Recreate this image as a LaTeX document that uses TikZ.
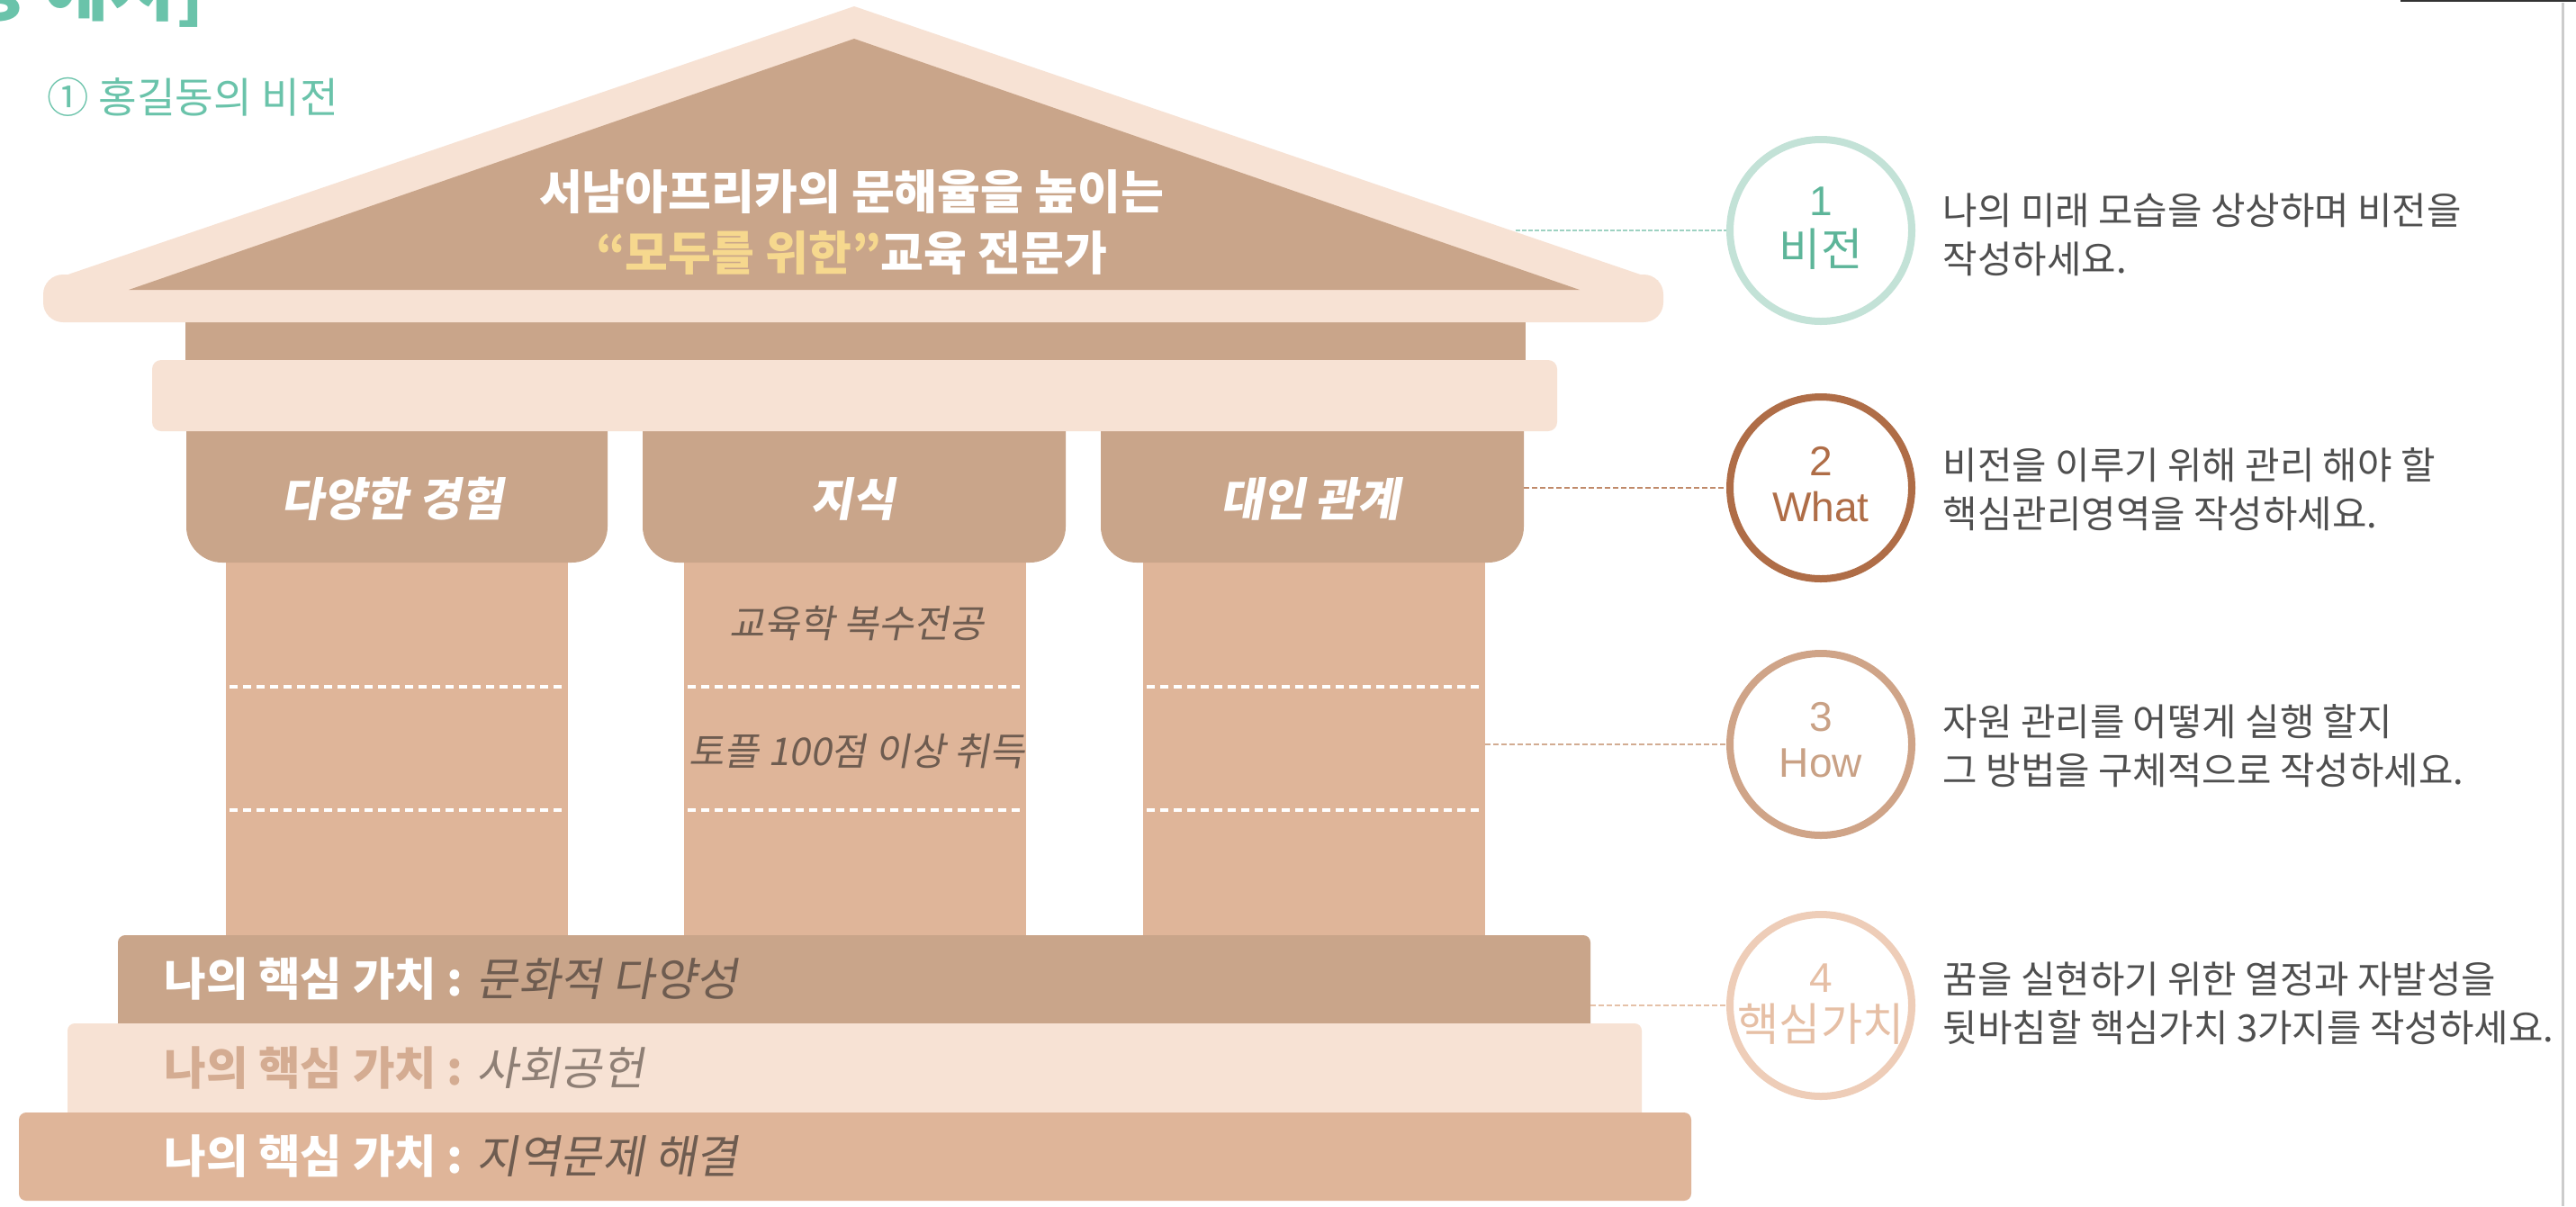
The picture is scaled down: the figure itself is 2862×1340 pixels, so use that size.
\documentclass[tikz,border=0pt]{standalone}
\usepackage{fontspec}
\setmainfont{Noto Sans CJK KR}
\newfontfamily\krslant{Noto Sans CJK KR}[FakeSlant=0.18]
\newfontfamily\lat{Liberation Sans}
\newcommand{\myfs}[2]{\fontsize{#1pt}{#2pt}\selectfont}
\definecolor{cLight}{HTML}{F7E2D4}
\definecolor{cDark}{HTML}{C9A58A}
\definecolor{cTan}{HTML}{DFB599}
\definecolor{cYellow}{HTML}{F6D88E}
\definecolor{cText}{HTML}{6E5C50}
\definecolor{cText2}{HTML}{8E7F75}
\definecolor{cPre2}{HTML}{D4AC92}
\definecolor{cTeal}{HTML}{6AC3AA}
\definecolor{cBody}{HTML}{4F4F4F}
\definecolor{cR1}{HTML}{C3E2D7}
\definecolor{cT1}{HTML}{5DB599}
\definecolor{cR2}{HTML}{AF6D47}
\definecolor{cT2}{HTML}{AF6D47}
\definecolor{cR3}{HTML}{CFA488}
\definecolor{cT3}{HTML}{C9A185}
\definecolor{cR4}{HTML}{EECDB8}
\definecolor{cT4}{HTML}{E6BFA5}
\definecolor{cC1}{HTML}{9ED2C2}
\definecolor{cC2}{HTML}{C08A6A}
\definecolor{cC3}{HTML}{D2AC92}
\definecolor{cC4}{HTML}{E5C1A8}
\definecolor{cLine}{HTML}{CCCCCC}
\tikzset{
  ring/.style={circle, draw=#1, line width=0.8mm, minimum size=20.2mm, inner sep=0pt, fill=white},
  numtxt/.style={inner sep=0pt, text=#1, font=\lat\myfs{13.1}{15}},
  wordtxt/.style={inner sep=0pt, text=#1, font=\myfs{14.3}{16}},
  latword/.style={inner sep=0pt, text=#1, font=\lat\myfs{13.1}{15}},
  conn/.style={draw=#1, line width=0.2mm, dash pattern=on 0.6mm off 0.3mm},
  conndot/.style={draw=#1, line width=0.22mm, dash pattern=on 0.45mm off 0.25mm},
  body/.style={anchor=west, align=left, inner sep=0pt, text=cBody, font=\myfs{11.9}{15.4}},
  caplabel/.style={inner sep=0pt, text=white, font=\krslant\bfseries\myfs{14.5}{17}},
  shafttxt/.style={inner sep=0pt, text=cText, font=\krslant\myfs{12.1}{14}},
  steptxt/.style={anchor=west, inner sep=0pt, font=\myfs{14.4}{17}},
  sep/.style={draw=white, line width=0.4mm, dash pattern=on 0.9mm off 0.6mm},
}
\begin{document}
\begin{tikzpicture}[x=0.1mm,y=-0.1mm]
\useasboundingbox (0,0) rectangle (2862,1340);
\clip (0,0) rectangle (2862,1340);
\fill[white] (0,0) rectangle (2862,1340);

% cropped heading and title
\node[anchor=base east, inner sep=0pt, text=cTeal, font=\bfseries\myfs{22.8}{27}] (head) at (228,16) {[작성 예시]};
\node[anchor=west, inner sep=0pt, text=cTeal, font=\myfs{13.2}{15}] (title) at (52,108) {① 홍길동의 비전};

% page lines
\draw[cLine, line width=0.3mm] (2847,3) -- (2847,1340);
\draw[black!80, line width=0.25mm] (2667,1) -- (2862,1);

% shafts
\foreach \a/\b in {251/631,760/1140,1270/1650}{
  \fill[cTan] (\a,600) rectangle (\b,1050);
  \draw[sep] (\a+4,763) -- (\b-3,763);
  \draw[sep] (\a+4,900) -- (\b-3,900);
}
% capitals
\foreach \a/\b in {207/675,714/1184,1223/1693}{
  \fill[cDark, rounded corners=4mm] (\a,420) rectangle (\b,625);
}
% frieze and architrave
\fill[cDark] (206,340) rectangle (1695,405);
\fill[cLight, rounded corners=1mm] (169,400) rectangle (1730,479);
% roof
\fill[cLight] (949,7) -- (55,312) -- (1843,312) -- cycle;
\fill[cLight, rounded corners=2.2mm] (48,305) rectangle (1848,358);
\fill[cDark] (949,43) -- (143,322) -- (1755,322) -- cycle;
% steps
\fill[cDark, rounded corners=0.8mm] (131,1039) rectangle (1767,1150);
\fill[cLight, rounded corners=0.8mm] (75,1137) rectangle (1824,1250);
\fill[cTan, rounded corners=0.8mm] (21,1236) rectangle (1879,1334);

% roof text
\node[align=center, inner sep=0pt, text=white, font=\bfseries\myfs{14.8}{19.3}] (vision) at (946,247)
  {서남아프리카의 문해율을 높이는\\{\color{cYellow}“모두를 위한”}교육 전문가};

% capital labels
\node[caplabel] (cap1) at (436,554) {다양한 경험};
\node[caplabel] (cap2) at (947,554) {지식};
\node[caplabel] (cap3) at (1456,554) {대인 관계};

% shaft texts
\node[shafttxt] (k1) at (952,692) {교육학 복수전공};
\node[shafttxt] (k2) at (952,835) {토플 100점 이상 취득};

% step texts
\node[steptxt] (s1) at (182,1088) {{\bfseries\color{white}나의 핵심 가치 :} {\krslant\color{cText}문화적 다양성}};
\node[steptxt] (s2) at (182,1187) {{\bfseries\color{cPre2}나의 핵심 가치 :} {\krslant\color{cText2}사회공헌}};
\node[steptxt] (s3) at (182,1285) {{\bfseries\color{white}나의 핵심 가치 :} {\krslant\color{cText}지역문제 해결}};

% connector anchors
\coordinate (r1) at (1684,256);
\coordinate (r2) at (1693,542);
\coordinate (r3) at (1650,827);
\coordinate (r4) at (1767,1117);

% circles
\node[ring=cR1] (c1) at (2023,256) {};
\node[ring=cR2] (c2) at (2023,542) {};
\node[ring=cR3] (c3) at (2023,827) {};
\node[ring=cR4] (c4) at (2023,1117) {};

\draw[conndot=cC1] (r1) -- (c1.west);
\draw[conn=cC2] (r2) -- (c2.west);
\draw[conn=cC3] (r3) -- (c3.west);
\draw[conn=cC4] (r4) -- (c4.west);

\node[numtxt=cT1] (n1) at ([yshift=3.2mm]c1.center) {1};
\node[wordtxt=cT1] (w1) at ([yshift=-2.1mm]c1.center) {비전};
\node[numtxt=cT2] (n2) at ([yshift=3.0mm]c2.center) {2};
\node[latword=cT2] (w2) at ([yshift=-2.1mm]c2.center) {What};
\node[numtxt=cT3] (n3) at ([yshift=3.0mm]c3.center) {3};
\node[latword=cT3] (w3) at ([yshift=-2.1mm]c3.center) {How};
\node[numtxt=cT4] (n4) at ([yshift=3.0mm]c4.center) {4};
\node[wordtxt=cT4] (w4) at ([yshift=-2.1mm]c4.center) {핵심가치};

% descriptions
\node[body] (t1) at (2158,261) {나의 미래 모습을 상상하며 비전을\\작성하세요.};
\node[body] (t2) at (2158,544) {비전을 이루기 위해 관리 해야 할\\핵심관리영역을 작성하세요.};
\node[body] (t3) at (2158,829) {자원 관리를 어떻게 실행 할지\\그 방법을 구체적으로 작성하세요.};
\node[body] (t4) at (2158,1115) {꿈을 실현하기 위한 열정과 자발성을\\뒷바침할 핵심가치 3가지를 작성하세요.};
\end{tikzpicture}
\end{document}
